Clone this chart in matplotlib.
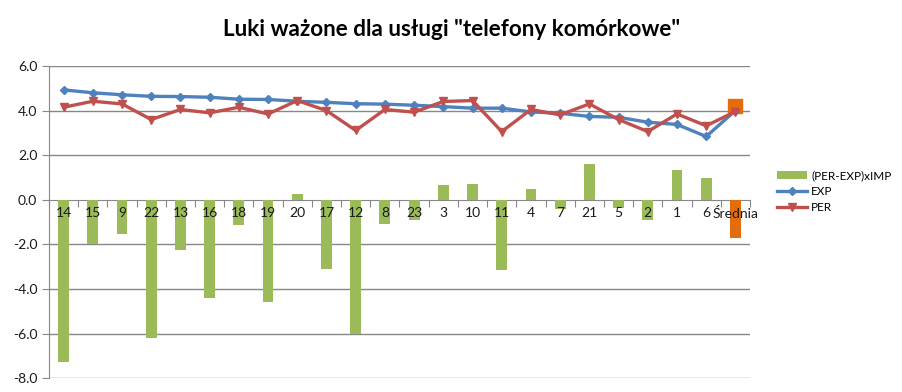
import matplotlib
matplotlib.use("Agg")
import matplotlib.pyplot as plt
from matplotlib.ticker import FixedLocator, FixedFormatter
import numpy as np

categories = ["14", "15", "9", "22", "13", "16", "18", "19", "20", "17", "12", "8",
              "23", "3", "10", "11", "4", "7", "21", "5", "2", "1", "6", "Średnia"]
gap_values = [-7.27, -2.0, -1.53, -6.2, -2.26, -4.4, -1.13, -4.58, 0.25, -3.1, -6.0, -1.08,
              -0.92, 0.65, 0.70, -3.15, 0.47, -0.41, 1.59, -0.37, -0.90, 1.32, 0.96, -1.71]
exp_values = [4.93, 4.80, 4.71, 4.64, 4.63, 4.60, 4.51, 4.50, 4.42, 4.37, 4.31, 4.29,
              4.24, 4.18, 4.11, 4.11, 3.94, 3.88, 3.74, 3.70, 3.48, 3.38, 2.84, 4.00]
per_values = [4.15, 4.42, 4.30, 3.60, 4.05, 3.90, 4.15, 3.85, 4.45, 4.00, 3.11, 4.05,
              3.93, 4.41, 4.45, 3.06, 4.05, 3.81, 4.30, 3.60, 3.06, 3.85, 3.32, 3.96]
avg_marker_value = 4.2
yticks = [6.0, 4.0, 2.0, 0.0, -2.0, -4.0, -6.0, -8.0]

GREEN = "#9BBB59"
BLUE = "#4F81BD"
RED = "#C0504D"
ORANGE = "#E46C0A"
GRID = "#878787"

plt.rcParams['font.family'] = ['Lato', 'DejaVu Sans']

fig = plt.figure(figsize=(9.03, 3.92), dpi=100)
ax = fig.add_axes([49/903, 1-378.3/392, (750-49)/903, (378.3-66)/392])

x = np.arange(len(categories))
for v in yticks:
    if v != 0:
        ax.axhline(v, color=GRID, lw=1, zorder=0.5)

bar_colors = [GREEN] * (len(categories) - 1) + [ORANGE]
h_bar = ax.bar(x, gap_values, width=0.37, color=bar_colors, zorder=2,
               label="(PER-EXP)xIMP")
h_exp, = ax.plot(x, exp_values, color=BLUE, lw=2.4, marker="D", ms=4, zorder=4, label="EXP")
h_per, = ax.plot(x, per_values, color=RED, lw=2.4, marker="v", ms=6, zorder=5, label="PER")
ax.scatter([x[-1]], [avg_marker_value], marker="s", s=100, color=ORANGE, zorder=3)

ax.set_xlim(-0.5, len(categories) - 0.5)
ax.set_ylim(-8, 6)
ax.set_yticks(yticks)
ax.set_yticklabels([f"{v:.1f}" for v in yticks])
ax.set_axisbelow(False)

for s in ["top", "right"]:
    ax.spines[s].set_visible(False)
ax.spines["left"].set_color(GRID)
ax.spines["bottom"].set_position(("data", 0))
ax.spines["bottom"].set_color(GRID)
ax.spines["bottom"].set_zorder(1)

ax.xaxis.set_major_locator(FixedLocator(np.arange(-0.5, len(categories) + 0.5, 1)))
ax.xaxis.set_major_formatter(FixedFormatter([""] * (len(categories) + 1)))
ax.xaxis.set_minor_locator(FixedLocator(x))
ax.xaxis.set_minor_formatter(FixedFormatter(categories))
ax.tick_params(axis="x", which="major", length=5, color=GRID, direction="out")
ax.tick_params(axis="x", which="minor", length=0, pad=5, labelsize=10, labelcolor="#1a1a1a")
ax.tick_params(axis="y", length=5, color=GRID, labelsize=10, labelcolor="#1a1a1a")

fig.text(0.5, 1-30/392, 'Luki ważone dla usługi "telefony komórkowe"', ha="center", va="center",
         fontsize=16.2, fontweight="bold", color="#000000")

fig.legend([h_bar, h_exp, h_per], ["(PER-EXP)xIMP", "EXP", "PER"],
           loc="upper left", bbox_to_anchor=(777/903, 1-170/392), frameon=False,
           fontsize=8.5, handlelength=2.5, handletextpad=0.4, labelspacing=0.42,
           borderaxespad=0, borderpad=0)

fig.savefig("out.png", dpi=100)
